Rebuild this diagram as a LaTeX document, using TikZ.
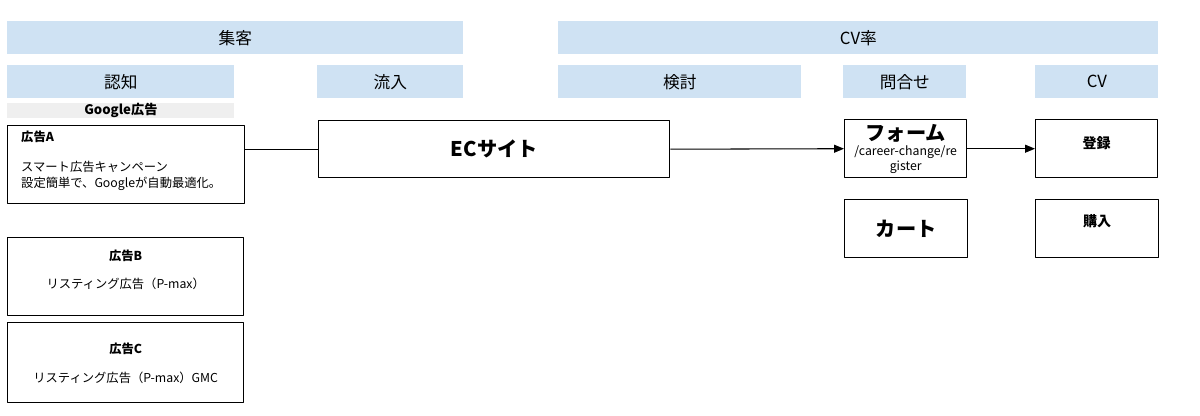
\documentclass[tikz,border=0pt]{standalone}
\usepackage{fontspec}
\setmainfont{Noto Sans CJK JP}
\usetikzlibrary{arrows.meta}
\definecolor{stagefill}{HTML}{CFE2F3}
\definecolor{mediafill}{HTML}{EFEFEF}
\begin{document}
\begin{tikzpicture}[join=round]
    \tikzstyle{stage} = [fill=stagefill,anchor=north west,minimum height=0.66cm,
                         inner sep=0pt,font=\fontsize{9.5pt}{11pt}\selectfont]
    \tikzstyle{adbox} = [draw,line width=0.8pt,anchor=north west,inner sep=0pt,
                         align=center,font=\fontsize{7pt}{9pt}\selectfont]
    \tikzstyle{step box} = [draw,line width=0.8pt,anchor=north west,inner sep=0pt,
                         align=center,font=\bfseries\fontsize{11.5pt}{13pt}\selectfont]
    \tikzstyle{flow} = [line width=0.6pt]

    \useasboundingbox (0,0) rectangle (24,-8.32);

    % stage headers
    \node[stage,minimum width=9.12cm] (attract) at (0.14,-0.42) {集客};
    \node[stage,minimum width=12cm] (cvrate) at (11.16,-0.42) {CV率};
    \node[stage,minimum width=4.54cm] (aware) at (0.14,-1.30) {認知};
    \node[stage,minimum width=2.92cm] (inflow) at (6.34,-1.30) {流入};
    \node[stage,minimum width=4.86cm] (consider) at (11.16,-1.30) {検討};
    \node[stage,minimum width=2.46cm] (inquiry) at (16.86,-1.30) {問合せ};
    \node[stage,minimum width=2.46cm] (conv) at (20.70,-1.30) {CV};

    % ads
    \node[fill=mediafill,anchor=north west,minimum width=4.54cm,minimum height=0.30cm,
          inner sep=0pt,font=\bfseries\fontsize{7.5pt}{8pt}\selectfont]
          (google) at (0.14,-2.06) {Google広告};
    \node[adbox,minimum width=4.74cm,minimum height=1.56cm,align=left,
          text width=4.2cm,text depth=32pt] (adA) at (0.14,-2.50)
          {\textbf{広告A}\\[8pt]スマート広告キャンペーン\\設定簡単で、Googleが自動最適化。};
    \node[adbox,minimum width=4.72cm,minimum height=1.56cm,text depth=9pt] (adB) at (0.14,-4.74)
          {\textbf{広告B}\\[7pt]リスティング広告（P-max）};
    \node[adbox,minimum width=4.72cm,minimum height=1.60cm,text depth=0pt] (adC) at (0.14,-6.44)
          {\textbf{広告C}\\[7pt]リスティング広告（P-max）GMC};

    % site and conversion steps
    \node[step box,minimum width=7.02cm,minimum height=1.14cm] (ec) at (6.36,-2.40) {ECサイト};
    \node[step box,minimum width=2.44cm,minimum height=1.16cm,
          font=\fontsize{7pt}{8.5pt}\selectfont] (form) at (16.88,-2.38)
          {{\bfseries\fontsize{11.5pt}{12pt}\selectfont フォーム}\\/career-change/re\\gister};
    \node[step box,minimum width=2.44cm,minimum height=1.16cm,text depth=7pt,
          font=\bfseries\fontsize{8pt}{9pt}\selectfont] (reg) at (20.70,-2.38) {登録};
    \node[step box,minimum width=2.46cm,minimum height=1.16cm] (cart) at (16.88,-3.98) {カート};
    \node[step box,minimum width=2.46cm,minimum height=1.16cm,text depth=9pt,
          font=\bfseries\fontsize{8pt}{9pt}\selectfont] (buy) at (20.70,-3.98) {購入};

    % connectors
    \draw[flow] (adA.east |- ec.west) -- (ec.west);
    \draw[flow,-{Triangle[length=2mm,width=1.6mm]}] (ec.east) -- (form.west);
    \draw[flow,-{Triangle[length=2mm,width=1.6mm]}] (form.east) -- (reg.west);
\end{tikzpicture}
\end{document}
